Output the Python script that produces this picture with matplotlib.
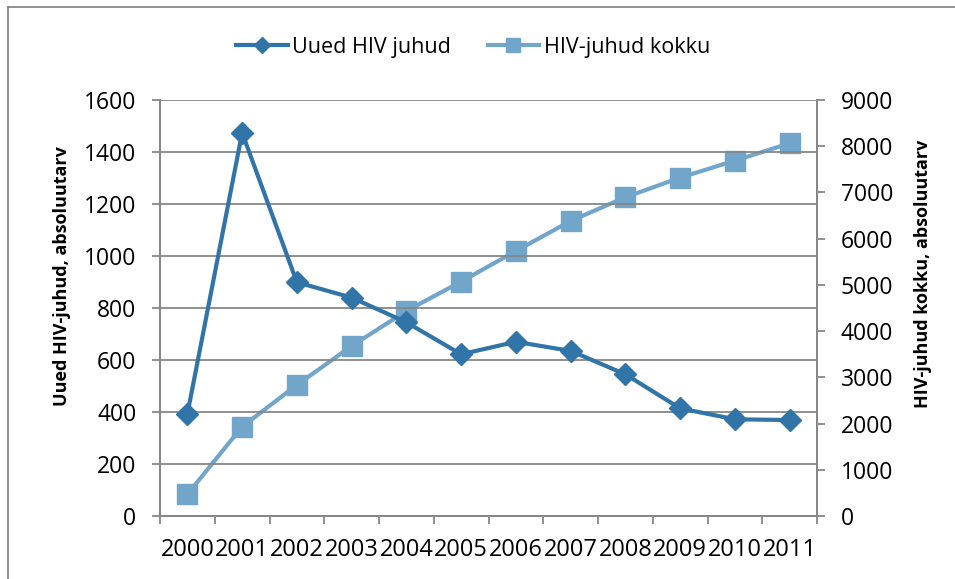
import matplotlib
matplotlib.use("Agg")
from matplotlib import pyplot as plt
from matplotlib.lines import Line2D
import numpy as np

plt.rcParams['font.family'] = ['Open Sans', 'DejaVu Sans']

#---------------------------data---------------------------#

years = ['2000', '2001', '2002', '2003', '2004', '2005',
         '2006', '2007', '2008', '2009', '2010', '2011']
uued = [392, 1474, 899, 840, 745, 622, 670, 635, 545, 414, 372, 369]
kokku = [469, 1932, 2834, 3678, 4435, 5070, 5733, 6383, 6895, 7320, 7688, 8063]

dark_blue = '#3175a8'
light_blue = '#71a5ca'
grey = '#878787'

#---------------------------figure---------------------------#

fig = plt.figure(figsize=(9.55, 5.79), dpi=100)
ax = fig.add_axes([160/955, 63/579, 657/955, 416/579])
ax2 = ax.twinx()

x = np.arange(len(years))

l1, = ax.plot(x, uued, color=dark_blue, lw=3, marker='D', ms=11,
              label='Uued HIV juhud', zorder=4)
l2, = ax2.plot(x, kokku, color=light_blue, lw=3, marker='s', ms=14,
               label='HIV-juhud kokku', zorder=3)
ax.set_zorder(ax2.get_zorder() + 1)
ax.patch.set_visible(False)

ax.set_xlim(-0.5, len(years) - 0.5)
ax.set_ylim(0, 1600)
ax2.set_ylim(0, 9000)
ax.set_yticks(np.arange(0, 1601, 200))
ax2.set_yticks(np.arange(0, 9001, 1000))

# category ticks between years, labels under the points
ax.set_xticks(np.arange(-0.5, len(years), 1))
ax.set_xticklabels([])
ax.set_xticks(x, minor=True)
ax.set_xticklabels(years, minor=True)
ax.tick_params(axis='x', which='major', direction='out', length=6, width=1.3, color=grey)
ax.tick_params(axis='x', which='minor', length=0, pad=16, labelsize=17)
ax.tick_params(axis='y', direction='out', length=6, width=1.3, color=grey, labelsize=16.5, pad=11)
ax2.tick_params(axis='y', direction='out', length=6, width=1.3, color=grey, labelsize=16.5, pad=11)

ax.grid(axis='y', color=grey, lw=1.3)
ax.set_axisbelow(True)
for a in (ax, ax2):
    a.spines['top'].set_visible(False)
    for s in ('left', 'right', 'bottom'):
        a.spines[s].set_color(grey)
        a.spines[s].set_linewidth(1.3)

fig.text(62/955, 1 - 276/579, 'Uued HIV-juhud, absoluutarv', rotation=90,
         ha='center', va='center', fontsize=13, fontweight='bold')
fig.text(923/955, 1 - 274/579, 'HIV-juhud kokku, absoluutarv', rotation=90,
         ha='center', va='center', fontsize=13, fontweight='bold')

fig.legend(handles=[l1, l2], loc='center', bbox_to_anchor=(473/955, 1 - 47/579), ncol=2,
           frameon=False, fontsize=15.5, handlelength=2.4, columnspacing=1.7,
           handletextpad=0.2, markerscale=0.75)

# chart frame (left and top edges visible)
fig.add_artist(Line2D([8/955, 8/955], [0, 1 - 7/579], transform=fig.transFigure, color=grey, lw=1.3))
fig.add_artist(Line2D([8/955, 1], [1 - 7/579, 1 - 7/579], transform=fig.transFigure, color=grey, lw=1.3))

fig.savefig('out.png', dpi=100)
